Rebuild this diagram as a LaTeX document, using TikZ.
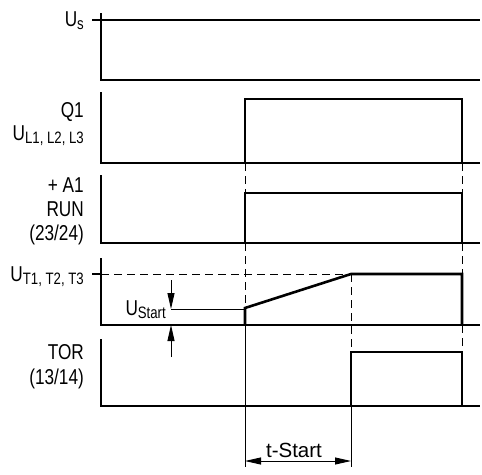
\documentclass[tikz,border=0pt]{standalone}
\usepackage{fontspec}
\setmainfont{Liberation Sans}[FakeStretch=0.8]
\newfontfamily\widefont{Liberation Sans}
\usetikzlibrary{arrows.meta}
\newcommand{\lowtxt}[1]{\raisebox{-0.3ex}{\fontsize{16.5}{16.5}\selectfont #1}}
\tikzset{
	axis/.style={line width=1.6pt},
	signal/.style={line width=2.6pt, line join=miter},
	guide/.style={line width=0.9pt, dash pattern=on 8pt off 5pt},
	thinline/.style={line width=0.9pt},
	lbl/.style={anchor=base east, inner sep=0pt, font=\fontsize{21.5}{24}\selectfont},
	tip/.style={-{Triangle[length=16pt,width=7pt]}, line width=0.9pt},
}
\begin{document}
\begin{tikzpicture}[x=1pt, y=-1pt]
		\useasboundingbox (0,0) rectangle (482,474);
		
		% оси
		\foreach \ya/\yb in {13/80, 92/163, 175/243, 258/325, 339/406} {
			\draw[axis] (101,\ya) -- (101,\yb) -- (480,\yb);
		}
		\draw[line width=2pt] (92,20) -- (480,20);
		\draw[axis] (92,274) -- (101,274);
		
		% подписи
		\node[lbl] (us) at (84,26) {U\lowtxt{s}};
		\node[lbl] (qa) at (84,117) {Q1};
		\node[lbl] (qb) at (84,140) {U\lowtxt{L1, L2, L3}};
		\node[lbl] (ra) at (84,192) {+ A1};
		\node[lbl] (rb) at (84,216) {RUN};
		\node[lbl] (rc) at (84,240) {(23/24)};
		\node[lbl] (ut) at (84,281) {U\lowtxt{T1, T2, T3}};
		\node[lbl] (ust) at (166,315) {U\lowtxt{Start}};
		\node[lbl] (ta) at (84,359) {TOR};
		\node[lbl] (tb) at (84,384) {(13/14)};
		
		% пунктир
		\draw[guide] (101,274) -- (351,274);
		\draw[guide] (245,163) -- (245,193);
		\draw[guide] (245,243) -- (245,308);
		\draw[guide] (351,274) -- (351,352);
		\foreach \ya/\yb in {163/193, 243/274, 325/352} {
			\draw[guide] (462,\ya) -- (462,\yb);
		}
		
		% сигналы
		\draw[signal] (245,163) -- (245,99) -- (462,99) -- (462,163);
		\draw[signal] (245,243) -- (245,193) -- (462,193) -- (462,243);
		\draw[signal] (245,325) -- (245,308) -- (351,274) -- (462,274) -- (462,325);
		\draw[signal] (351,406) -- (351,352) -- (462,352) -- (462,406);
		
		% U Start
		\draw[thinline] (171,309) -- (245,309);
		\draw[tip] (171,280) -- (171,309);
		\draw[tip] (171,357) -- (171,325);
		
		% t-Start
		\draw[thinline] (245,325) -- (245,467);
		\draw[thinline] (351,406) -- (351,467);
		\draw[{Triangle[length=16pt,width=7pt]}-{Triangle[length=16pt,width=7pt]}, line width=0.9pt] (245,461) -- (351,461);
		\node[anchor=base, inner sep=0pt, font=\widefont\fontsize{20.5}{22}\selectfont] (ts) at (294,457) {t-Start};
	\end{tikzpicture}
\end{document}
